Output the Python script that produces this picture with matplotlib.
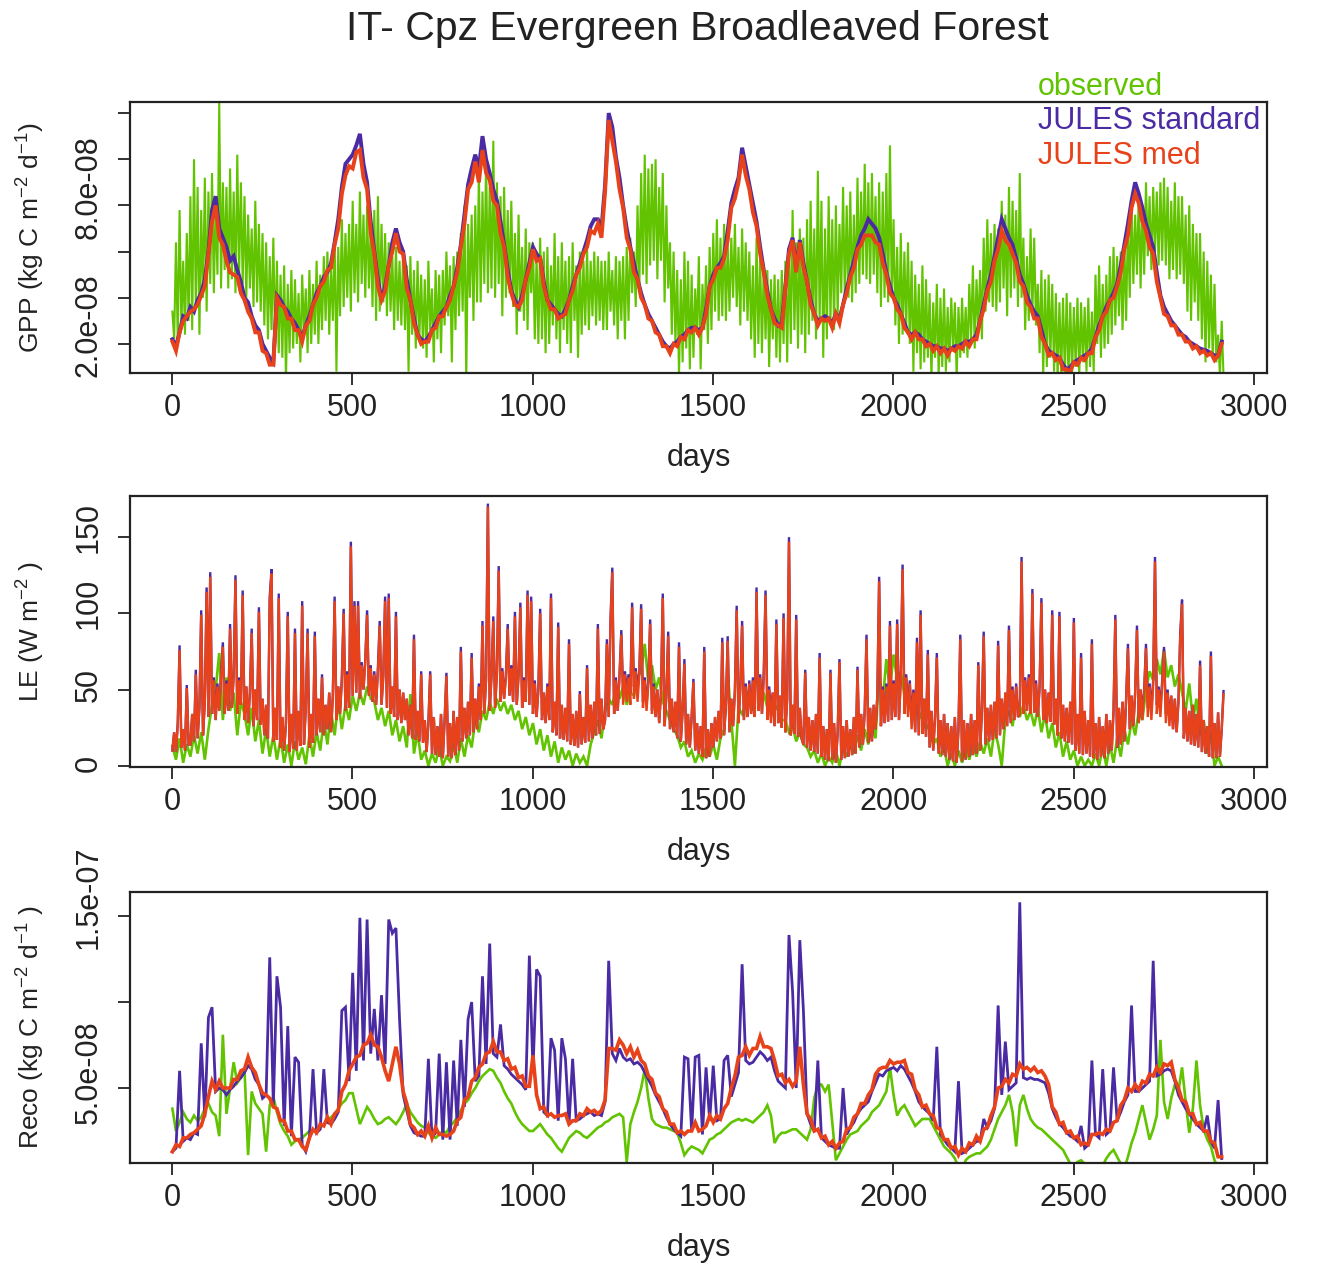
import numpy as np
import matplotlib
matplotlib.use("Agg")
import matplotlib.pyplot as plt
import matplotlib.transforms as mtransforms

plt.rcParams['font.family'] = ['Liberation Sans', 'DejaVu Sans']
plt.rcParams['mathtext.fontset'] = 'custom'
plt.rcParams['mathtext.rm'] = 'Liberation Sans'
plt.rcParams['mathtext.default'] = 'regular'

# ---------------- data ----------------
# series are sampled from day 1, every 5 days (fine) or every 10 days (coarse)
DAY0 = 1
STEP_FINE, STEP_COARSE = 5, 10

# GPP observed, 1e-8 kg C m-2 d-1, every 5 days
gpp_obs_e8 = [
    3.4, 2.2, 6.4, 2.0, 7.8, 2.8, 5.6, 2.4, 6.8, 3.0,
    8.4, 2.6, 10.0, 3.6, 8.8, 2.4, 7.8, 4.0, 9.2, 3.4,
    8.6, 4.6, 9.4, 4.2, 8.2, 5.0, 12.5, 4.4, 9.0, 5.2,
    8.8, 4.4, 9.6, 4.8, 8.6, 4.2, 10.2, 5.0, 9.0, 4.6,
    8.4, 4.0, 7.6, 4.4, 7.0, 3.6, 8.2, 3.8, 7.2, 3.4,
    6.8, 2.8, 6.4, 2.2, 5.8, 2.6, 6.6, 2.0, 5.6, 1.6,
    5.0, 1.4, 5.4, 0.4, 4.6, 1.6, 5.2, 1.8, 4.8, 2.0,
    4.2, 1.2, 5.0, 2.4, 4.4, 1.6, 5.2, 2.0, 4.6, 2.4,
    5.6, 2.0, 5.0, 2.6, 5.8, 3.0, 6.0, 2.4, 5.4, 3.0,
    6.6, 0.8, 6.2, 3.2, 7.4, 3.6, 6.8, 4.0, 7.2, 3.4,
    8.2, 4.2, 7.2, 3.8, 8.6, 4.6, 7.6, 4.0, 8.0, 4.4,
    7.0, 3.6, 7.8, 3.0, 8.4, 3.4, 7.2, 3.8, 6.8, 3.2,
    6.4, 3.4, 5.8, 2.6, 6.2, 3.0, 5.6, 2.8, 6.0, 2.6,
    5.4, 0.8, 5.8, 2.4, 5.2, 1.8, 5.6, 2.2, 5.0, 1.8,
    4.8, 1.4, 5.6, 2.6, 4.4, 1.2, 5.2, 2.2, 5.0, 1.6,
    5.2, 2.8, 6.0, 3.2, 5.4, 1.2, 5.8, 2.6, 6.0, 3.2,
    6.8, 3.4, 8.0, 0.3, 7.2, 4.0, 7.6, 3.0, 8.0, 3.8,
    9.4, 3.8, 8.6, 4.6, 10.0, 4.2, 8.8, 4.4, 10.8, 4.0,
    9.0, 4.6, 8.4, 3.2, 8.8, 4.0, 7.8, 4.2, 8.2, 3.6,
    6.8, 2.4, 7.6, 3.4, 6.2, 3.0, 7.0, 2.6, 6.4, 4.2,
    6.4, 2.2, 5.8, 2.0, 6.6, 2.2, 6.0, 1.6, 6.2, 2.0,
    5.4, 2.8, 6.8, 2.2, 5.8, 1.6, 6.4, 2.6, 5.6, 2.0,
    5.8, 1.6, 6.4, 3.0, 5.4, 1.4, 6.0, 2.4, 5.6, 2.8,
    6.2, 2.6, 5.6, 3.2, 6.0, 2.8, 5.8, 3.0, 5.6, 2.6,
    5.6, 2.6, 6.0, 3.4, 5.2, 2.8, 5.8, 2.2, 5.6, 3.0,
    5.8, 2.2, 6.2, 3.0, 6.6, 4.2, 6.0, 3.6, 8.0, 4.4,
    9.4, 5.0, 10.2, 4.6, 9.6, 5.4, 9.8, 5.6, 10.0, 4.8,
    8.8, 5.6, 9.4, 3.8, 8.0, 4.4, 6.4, 2.4, 6.0, 2.0,
    5.2, 0.6, 4.8, 1.2, 6.0, 1.8, 5.6, 0.9, 5.0, 1.4,
    4.4, 2.4, 5.8, 0.9, 4.6, 2.6, 5.4, 2.0, 6.2, 2.6,
    6.8, 3.4, 7.4, 3.0, 6.6, 3.2, 7.2, 3.0, 6.4, 3.4,
    6.6, 4.0, 7.2, 3.6, 6.2, 2.8, 7.0, 3.4, 6.4, 3.0,
    6.0, 2.2, 5.4, 1.4, 6.6, 2.0, 5.8, 1.6, 5.4, 2.2,
    5.2, 1.0, 4.8, 2.2, 5.0, 1.4, 4.8, 1.2, 5.2, 2.0,
    5.6, 1.2, 6.2, 2.0, 7.8, 2.6, 6.4, 1.8, 7.0, 2.4,
    6.6, 1.6, 7.4, 2.4, 8.2, 3.0, 7.0, 2.2, 9.5, 3.0,
    8.2, 1.4, 7.0, 2.2, 8.4, 3.0, 7.4, 2.6, 8.0, 3.2,
    7.2, 4.2, 8.8, 3.8, 8.0, 4.0, 8.6, 3.8, 7.6, 4.2,
    9.2, 4.6, 8.6, 5.0, 9.8, 4.8, 9.0, 4.6, 9.4, 5.0,
    8.4, 4.2, 9.0, 3.6, 8.6, 4.0, 9.4, 3.8, 10.6, 4.0,
    7.4, 2.8, 6.2, 2.0, 6.8, 2.4, 6.0, 2.6, 6.4, 2.0,
    5.6, 0.8, 5.0, 1.6, 4.6, 0.9, 5.4, 1.2, 4.8, 1.4,
    4.2, 0.5, 3.8, 1.4, 4.6, 0.6, 4.0, 1.0, 4.4, 0.8,
    3.6, 1.2, 4.0, 1.8, 3.8, 0.5, 3.6, 1.4, 4.0, 1.6,
    3.6, 1.4, 4.6, 2.2, 5.4, 1.8, 4.8, 2.6, 5.2, 2.2,
    6.6, 3.4, 7.4, 3.8, 6.8, 3.6, 7.2, 3.4, 7.0, 3.8,
    8.2, 4.4, 7.6, 3.2, 8.8, 4.0, 8.2, 4.4, 7.8, 3.6,
    9.4, 4.0, 6.6, 2.6, 5.8, 3.0, 7.0, 3.4, 6.6, 2.8,
    4.6, 1.6, 5.2, 0.6, 4.8, 1.0, 5.0, 1.4, 4.6, 0.8,
    4.2, 0.5, 3.8, 0.7, 4.0, 0.6, 4.2, 0.5, 3.8, 0.6,
    3.6, 1.0, 4.0, 0.6, 3.8, 1.2, 3.6, 0.8, 4.0, 1.0,
    3.4, 0.8, 5.0, 2.0, 5.4, 1.4, 4.6, 1.8, 5.0, 2.0,
    5.8, 2.4, 6.2, 2.8, 5.8, 3.2, 6.0, 2.6, 6.4, 3.0,
    7.4, 4.0, 8.2, 4.6, 7.6, 5.0, 8.6, 4.4, 8.0, 5.0,
    9.0, 5.8, 8.4, 5.2, 8.8, 6.0, 8.6, 5.4, 9.0, 5.6,
    9.2, 5.4, 8.8, 4.8, 8.2, 5.2, 9.0, 4.8, 8.4, 5.0,
    8.4, 4.6, 7.6, 3.4, 8.0, 3.0, 7.2, 3.8, 6.8, 3.0,
    6.8, 2.2, 6.0, 1.2, 5.6, 1.8, 5.0, 1.4, 4.6, 1.2,
    2.4, 0.6, 3.0, 0.6]

# GPP JULES standard / med, 1e-8 kg C m-2 d-1, every 10 days
gpp_std_e8 = [
    2.2, 1.9, 2.5, 3.2, 3.1, 3.6, 3.4, 3.9, 4.2, 4.8,
    6.0, 7.8, 8.4, 7.0, 6.6, 6.2, 5.6, 5.8, 5.2, 4.7,
    4.0, 3.8, 3.2, 2.8, 2.6, 2.0, 1.7, 1.4, 1.2, 4.1,
    3.9, 3.6, 3.4, 3.1, 2.9, 2.6, 2.3, 2.8, 3.2, 3.7,
    4.2, 4.5, 4.9, 5.1, 5.5, 6.4, 7.4, 8.8, 9.8, 10.0,
    10.2, 10.6, 11.1, 9.8, 9.0, 7.3, 6.0, 4.8, 3.9, 4.5,
    5.4, 6.4, 7.0, 6.4, 6.0, 4.8, 3.9, 3.1, 2.4, 2.2,
    2.1, 2.3, 2.6, 2.9, 3.2, 3.4, 3.6, 4.1, 4.5, 5.3,
    6.3, 7.6, 8.9, 9.6, 10.2, 9.6, 11.0, 10.0, 9.4, 8.7,
    8.2, 7.3, 6.3, 5.2, 4.3, 3.9, 3.6, 4.1, 4.8, 5.5,
    6.2, 5.9, 5.7, 4.7, 3.9, 3.7, 3.5, 3.3, 3.2, 3.5,
    3.9, 4.5, 5.0, 5.5, 6.0, 6.5, 7.1, 7.4, 7.4, 7.0,
    8.9, 12.0, 11.4, 10.1, 9.2, 8.0, 7.0, 6.2, 5.5, 4.8,
    4.2, 3.7, 3.3, 3.0, 2.7, 2.4, 2.1, 1.9, 1.8, 2.0,
    2.1, 2.3, 2.4, 2.6, 2.7, 2.7, 2.6, 2.7, 3.5, 4.5,
    5.0, 5.3, 5.5, 5.8, 6.9, 8.1, 8.7, 9.2, 10.5, 9.7,
    8.9, 8.1, 7.3, 6.2, 5.2, 4.3, 3.5, 3.1, 2.8, 2.9,
    4.5, 6.1, 6.6, 5.3, 6.5, 5.5, 4.7, 3.9, 3.3, 3.0,
    3.1, 3.2, 3.1, 2.9, 3.3, 3.1, 3.7, 4.4, 5.0, 5.6,
    6.2, 6.7, 7.0, 7.4, 7.2, 7.0, 6.6, 5.9, 5.1, 4.5,
    4.0, 3.7, 3.3, 2.9, 2.5, 2.4, 2.5, 2.4, 2.2, 2.1,
    2.0, 1.9, 1.9, 1.8, 1.8, 1.7, 1.8, 1.9, 1.9, 2.0,
    2.1, 2.1, 2.2, 2.4, 3.0, 3.7, 4.4, 5.0, 5.8, 6.6,
    7.4, 7.0, 6.6, 6.3, 5.7, 5.0, 4.6, 4.1, 3.7, 3.4,
    3.2, 2.6, 2.0, 1.7, 1.6, 1.5, 1.4, 1.1, 0.9, 1.0,
    1.2, 1.3, 1.4, 1.5, 1.6, 1.8, 2.3, 2.8, 3.2, 3.6,
    3.9, 4.2, 4.6, 5.4, 6.3, 7.2, 8.2, 9.0, 8.5, 7.9,
    7.2, 6.7, 6.2, 5.1, 4.1, 3.6, 3.3, 3.0, 2.8, 2.6,
    2.4, 2.3, 2.1, 2.0, 1.9, 1.8, 1.75, 1.7, 1.6, 1.5,
    1.5, 2.1]

gpp_med_e8 = [
    2.1, 1.7, 2.5, 3.0, 3.2, 3.4, 3.5, 3.7, 4.1, 4.5,
    5.9, 7.3, 8.0, 6.6, 6.3, 5.6, 5.1, 5.0, 4.9, 4.2,
    3.9, 3.4, 3.1, 2.5, 2.5, 1.7, 1.6, 1.1, 1.1, 4.0,
    3.7, 3.6, 3.1, 3.1, 2.6, 2.6, 2.1, 2.8, 3.0, 3.7,
    4.0, 4.5, 4.7, 5.2, 5.3, 6.3, 7.0, 8.5, 9.3, 9.7,
    9.6, 10.3, 10.4, 9.2, 8.7, 6.8, 5.9, 4.5, 3.9, 4.3,
    5.4, 6.0, 6.8, 6.0, 5.9, 4.4, 3.9, 2.9, 2.4, 2.0,
    2.1, 2.1, 2.6, 2.7, 3.2, 3.2, 3.6, 3.9, 4.5, 5.1,
    6.2, 7.2, 8.7, 9.0, 9.9, 9.0, 10.4, 9.4, 9.1, 8.2,
    8.0, 6.8, 6.2, 4.9, 4.2, 3.7, 3.6, 3.9, 4.8, 5.3,
    6.1, 5.6, 5.7, 4.5, 3.9, 3.5, 3.5, 3.1, 3.2, 3.3,
    3.9, 4.3, 5.0, 5.3, 5.9, 6.2, 6.9, 6.8, 7.2, 6.6,
    8.6, 11.7, 10.8, 9.9, 8.7, 7.9, 6.6, 6.1, 5.1, 4.8,
    4.0, 3.7, 3.1, 3.0, 2.5, 2.4, 1.9, 1.9, 1.6, 2.0,
    1.9, 2.3, 2.2, 2.6, 2.5, 2.7, 2.4, 2.7, 3.3, 4.5,
    4.8, 5.3, 5.3, 5.7, 6.5, 7.9, 8.3, 9.0, 10.2, 9.3,
    8.7, 7.7, 7.1, 5.9, 5.1, 4.1, 3.5, 2.9, 2.8, 2.7,
    4.4, 5.9, 6.5, 5.1, 6.4, 5.3, 4.7, 3.7, 3.3, 2.8,
    3.1, 3.0, 3.1, 2.7, 3.3, 2.9, 3.7, 4.2, 4.9, 5.3,
    6.1, 6.3, 6.7, 6.7, 6.7, 6.4, 6.3, 5.5, 5.0, 4.2,
    4.0, 3.5, 3.3, 2.7, 2.5, 2.2, 2.5, 2.2, 2.2, 1.9,
    2.0, 1.7, 1.9, 1.6, 1.8, 1.5, 1.8, 1.7, 1.9, 1.8,
    2.1, 1.9, 2.2, 2.2, 3.0, 3.5, 4.3, 4.7, 5.6, 6.1,
    6.9, 6.5, 6.3, 5.9, 5.5, 4.7, 4.5, 3.8, 3.6, 3.1,
    3.1, 2.3, 2.0, 1.5, 1.6, 1.3, 1.4, 0.9, 0.9, 0.8,
    1.2, 1.1, 1.4, 1.3, 1.6, 1.6, 2.3, 2.6, 3.2, 3.4,
    3.9, 4.0, 4.5, 5.1, 6.1, 6.7, 7.9, 8.5, 8.1, 7.3,
    6.9, 6.2, 5.9, 4.7, 4.0, 3.3, 3.2, 2.8, 2.8, 2.4,
    2.4, 2.1, 2.1, 1.8, 1.9, 1.6, 1.7, 1.5, 1.6, 1.3,
    1.5, 2.0]

# LE observed, W m-2, every 10 days
le_obs = [
    13, 4, 18, 2, 14, 6, 20, 8, 22, 4,
    24, 40, 50, 74, 30, 58, 36, 48, 20, 42,
    34, 20, 38, 16, 30, 8, 24, 6, 20, 4,
    18, 2, 14, 0, 16, 4, 12, 1, 20, 6,
    22, 10, 30, 14, 36, 20, 42, 24, 40, 30,
    46, 36, 48, 40, 52, 44, 42, 30, 38, 26,
    36, 20, 30, 16, 26, 12, 47, 8, 22, 4,
    10, 0, 8, 2, 12, 0, 6, 3, 14, 2,
    18, 6, 20, 12, 30, 22, 36, 30, 42, 34,
    44, 36, 42, 34, 40, 30, 36, 24, 32, 20,
    28, 14, 24, 10, 20, 6, 16, 2, 12, 4,
    10, 0, 8, 2, 6, 0, 14, 22, 30, 18,
    36, 44, 40, 50, 44, 52, 40, 48, 46, 58,
    62, 80, 54, 66, 50, 58, 42, 36, 30, 24,
    20, 12, 16, 6, 10, 2, 8, 4, 12, 6,
    14, 4, 18, 24, 62, 30, 0, 38, 34, 40,
    44, 36, 64, 42, 48, 38, 46, 36, 40, 30,
    30, 22, 26, 16, 22, 14, 12, 6, 10, 2,
    8, 0, 6, 2, 10, 0, 12, 6, 14, 8,
    20, 10, 24, 14, 28, 18, 60, 42, 70, 50,
    73, 56, 62, 46, 50, 40, 44, 30, 36, 24,
    28, 14, 18, 6, 12, 0, 8, 0, 10, 2,
    12, 4, 14, 6, 16, 8, 18, 6, 24, 14,
    0, 30, 36, 26, 44, 32, 40, 30, 36, 26,
    38, 22, 34, 18, 28, 12, 22, 6, 16, 4,
    10, 0, 6, 0, 4, 0, 8, 0, 12, 0,
    14, 2, 18, 6, 24, 14, 30, 20, 36, 30,
    50, 62, 56, 70, 60, 76, 58, 66, 52, 60,
    48, 36, 54, 30, 44, 20, 30, 8, 22, 0,
    6, 0]

# LE JULES standard, W m-2, every 5 days
le_std = [
    10, 22, 9, 28, 79, 12, 24, 10, 53, 14,
    14, 34, 16, 63, 18, 38, 102, 20, 42, 117,
    32, 127, 34, 58, 30, 54, 36, 60, 81, 34,
    56, 36, 93, 38, 60, 125, 34, 58, 40, 115,
    30, 52, 28, 48, 90, 26, 50, 30, 104, 27,
    44, 20, 40, 18, 111, 129, 16, 38, 17, 113,
    12, 32, 10, 28, 101, 9, 34, 11, 90, 10,
    36, 13, 108, 14, 38, 90, 12, 34, 15, 88,
    20, 44, 22, 60, 20, 40, 24, 48, 22, 46,
    111, 30, 52, 34, 58, 103, 36, 62, 38, 147,
    46, 108, 48, 108, 44, 68, 50, 70, 102, 46,
    66, 42, 62, 40, 64, 95, 40, 60, 111, 38,
    113, 34, 52, 32, 101, 30, 50, 28, 48, 30,
    44, 20, 40, 18, 86, 17, 36, 16, 62, 15,
    30, 9, 28, 62, 8, 32, 7, 26, 6, 34,
    5, 30, 61, 6, 28, 5, 36, 7, 32, 10,
    78, 16, 38, 18, 42, 20, 74, 22, 44, 24,
    54, 30, 95, 34, 58, 172, 36, 60, 98, 38,
    62, 131, 42, 64, 44, 60, 93, 46, 66, 42,
    101, 40, 60, 107, 38, 58, 42, 115, 40, 111,
    34, 56, 32, 50, 103, 30, 48, 28, 54, 30,
    113, 22, 42, 20, 94, 18, 40, 17, 38, 16,
    83, 14, 34, 13, 36, 12, 49, 14, 32, 15,
    66, 16, 40, 18, 42, 20, 93, 21, 44, 24,
    30, 83, 32, 96, 130, 34, 58, 36, 60, 89,
    48, 62, 50, 60, 48, 107, 52, 64, 50, 62,
    106, 42, 58, 40, 56, 96, 36, 54, 32, 50,
    28, 48, 113, 26, 46, 88, 24, 44, 22, 42,
    18, 81, 16, 36, 70, 14, 34, 12, 32, 57,
    10, 28, 8, 26, 6, 78, 5, 24, 6, 28,
    12, 32, 16, 36, 18, 84, 20, 40, 85, 22,
    44, 26, 50, 105, 28, 52, 95, 30, 54, 32,
    56, 34, 58, 32, 117, 36, 60, 34, 62, 115,
    36, 52, 32, 48, 26, 96, 28, 46, 25, 100,
    22, 44, 150, 20, 40, 21, 99, 19, 38, 18,
    14, 63, 12, 32, 10, 30, 9, 34, 8, 74,
    6, 26, 4, 24, 3, 63, 4, 28, 2, 22,
    70, 4, 26, 5, 30, 6, 24, 7, 32, 8,
    65, 12, 34, 14, 36, 86, 15, 38, 16, 40,
    24, 46, 124, 26, 52, 28, 54, 29, 95, 30,
    56, 32, 96, 30, 58, 132, 40, 60, 38, 56,
    30, 50, 22, 84, 20, 102, 21, 44, 19, 76,
    12, 36, 10, 32, 74, 8, 30, 7, 34, 6,
    28, 4, 26, 3, 32, 2, 24, 86, 3, 30,
    4, 28, 6, 34, 7, 30, 8, 68, 10, 36,
    88, 14, 38, 16, 40, 17, 42, 18, 82, 20,
    44, 24, 48, 26, 92, 28, 52, 30, 54, 32,
    34, 137, 34, 58, 36, 60, 34, 116, 35, 56,
    32, 52, 110, 30, 50, 28, 48, 29, 102, 27,
    44, 20, 101, 18, 40, 16, 38, 15, 42, 14,
    97, 10, 34, 8, 74, 7, 36, 8, 30, 6,
    83, 5, 28, 4, 32, 6, 26, 5, 34, 8,
    30, 10, 36, 99, 12, 38, 14, 42, 16, 44,
    80, 24, 46, 26, 48, 92, 28, 50, 36, 50,
    80, 38, 54, 36, 56, 137, 40, 52, 38, 56,
    78, 34, 50, 30, 46, 24, 44, 22, 42, 87,
    109, 18, 38, 16, 36, 14, 40, 13, 34, 12,
    69, 9, 30, 8, 26, 6, 75, 5, 28, 5,
    35, 6, 24, 49]

# LE JULES med, W m-2, every 5 days
le_med = [
    10, 22, 9, 28, 76, 12, 24, 10, 51, 14,
    14, 34, 16, 60, 18, 38, 99, 20, 42, 114,
    32, 124, 34, 56, 30, 52, 36, 58, 78, 34,
    54, 36, 90, 38, 58, 122, 34, 56, 40, 112,
    30, 52, 28, 48, 87, 26, 50, 30, 101, 27,
    44, 20, 40, 18, 108, 126, 16, 38, 17, 110,
    12, 32, 10, 28, 98, 9, 34, 11, 87, 10,
    36, 13, 105, 14, 38, 87, 12, 34, 15, 85,
    20, 44, 22, 58, 20, 40, 24, 48, 22, 46,
    108, 30, 52, 34, 56, 100, 36, 60, 38, 144,
    46, 105, 48, 105, 44, 66, 50, 68, 99, 46,
    64, 42, 60, 40, 62, 92, 40, 58, 108, 38,
    110, 34, 52, 32, 98, 30, 50, 28, 48, 30,
    44, 20, 40, 18, 83, 17, 36, 16, 60, 15,
    30, 9, 28, 60, 8, 32, 7, 26, 6, 34,
    5, 30, 59, 6, 28, 5, 36, 7, 32, 10,
    75, 16, 38, 18, 42, 20, 71, 22, 44, 24,
    52, 30, 92, 34, 56, 170, 36, 58, 95, 38,
    60, 128, 42, 62, 44, 58, 90, 46, 64, 42,
    98, 40, 58, 104, 38, 56, 42, 112, 40, 108,
    34, 54, 32, 50, 100, 30, 48, 28, 52, 30,
    110, 22, 42, 20, 91, 18, 40, 17, 38, 16,
    80, 14, 34, 13, 36, 12, 47, 14, 32, 15,
    64, 16, 40, 18, 42, 20, 90, 21, 44, 24,
    30, 80, 32, 93, 127, 34, 56, 36, 58, 86,
    40, 60, 42, 58, 40, 104, 44, 62, 42, 60,
    103, 38, 56, 36, 54, 93, 34, 52, 32, 50,
    28, 48, 110, 26, 46, 85, 24, 44, 22, 42,
    18, 78, 16, 36, 67, 14, 34, 12, 32, 55,
    10, 28, 8, 26, 6, 75, 5, 24, 6, 28,
    12, 32, 16, 36, 18, 81, 20, 40, 82, 22,
    44, 26, 48, 102, 28, 50, 92, 30, 52, 32,
    54, 34, 56, 32, 114, 36, 58, 34, 56, 112,
    30, 50, 28, 48, 26, 93, 28, 46, 25, 97,
    22, 44, 147, 20, 40, 21, 96, 19, 38, 18,
    14, 61, 12, 32, 10, 30, 9, 34, 8, 71,
    6, 26, 4, 24, 3, 61, 4, 28, 2, 22,
    68, 4, 26, 5, 30, 6, 24, 7, 32, 8,
    63, 12, 34, 14, 36, 83, 15, 38, 16, 40,
    24, 46, 121, 26, 50, 28, 52, 29, 92, 30,
    54, 32, 93, 30, 56, 129, 34, 58, 32, 54,
    24, 48, 22, 81, 20, 99, 21, 44, 19, 73,
    12, 36, 10, 32, 71, 8, 30, 7, 34, 6,
    28, 4, 26, 3, 32, 2, 24, 83, 3, 30,
    4, 28, 6, 34, 7, 30, 8, 66, 10, 36,
    85, 14, 38, 16, 40, 17, 42, 18, 79, 20,
    44, 24, 48, 26, 89, 28, 50, 30, 52, 32,
    34, 134, 34, 56, 36, 58, 34, 113, 35, 54,
    32, 52, 107, 30, 50, 28, 48, 29, 99, 27,
    44, 20, 98, 18, 40, 16, 38, 15, 42, 14,
    94, 10, 34, 8, 71, 7, 36, 8, 30, 6,
    80, 5, 28, 4, 32, 6, 26, 5, 34, 8,
    30, 10, 36, 96, 12, 38, 14, 42, 16, 44,
    77, 24, 46, 26, 48, 89, 28, 50, 30, 48,
    77, 32, 52, 30, 54, 134, 34, 50, 32, 54,
    75, 28, 48, 26, 46, 24, 44, 22, 42, 84,
    106, 18, 38, 16, 36, 14, 40, 13, 34, 12,
    66, 9, 30, 8, 26, 6, 72, 5, 28, 5,
    35, 6, 24, 47]

# Reco, 1e-8 kg C m-2 d-1, every 10 days
reco_obs_e8 = [
    3.8, 2.5, 3.0, 3.6, 3.2, 3.0, 3.4, 3.1, 3.3, 3.8,
    4.1, 3.6, 3.4, 2.2, 8.1, 3.5, 5.0, 6.5, 5.3, 5.6,
    6.1, 1.1, 4.8, 4.1, 3.8, 3.5, 1.3, 4.0, 4.5, 3.6,
    2.9, 2.5, 2.2, 1.7, 1.9, 2.0, 2.1, 2.3, 2.5, 2.5,
    2.6, 2.7, 2.9, 3.1, 3.3, 3.5, 3.8, 4.1, 4.3, 4.7,
    4.7, 3.8, 2.9, 3.4, 3.9, 3.6, 3.2, 2.9, 3.0, 3.2,
    3.3, 3.1, 2.9, 3.2, 3.6, 4.1, 3.6, 3.3, 3.0, 2.8,
    2.7, 2.4, 2.2, 2.1, 2.3, 2.5, 2.4, 2.8, 3.0, 3.3,
    3.7, 4.1, 4.3, 4.7, 5.0, 5.4, 5.7, 5.9, 6.1, 6.0,
    5.6, 5.3, 4.8, 4.4, 4.1, 3.6, 3.2, 2.9, 2.7, 2.5,
    2.5, 2.7, 2.9, 2.6, 2.3, 2.1, 1.8, 1.5, 1.3, 1.7,
    2.1, 2.3, 2.5, 2.4, 2.2, 2.1, 2.3, 2.5, 2.7, 2.8,
    3.0, 3.1, 3.3, 3.4, 3.5, 3.3, 0.7, 2.9, 3.6, 4.2,
    5.0, 6.1, 4.4, 3.2, 2.9, 2.8, 2.7, 2.7, 2.6, 2.5,
    2.4, 1.8, 1.1, 1.4, 1.6, 1.5, 1.4, 1.2, 1.6, 2.0,
    2.1, 2.3, 2.4, 2.6, 2.8, 3.0, 3.1, 3.2, 3.1, 3.2,
    3.1, 3.0, 3.2, 3.4, 3.6, 4.0, 3.4, 1.8, 2.2, 2.4,
    2.4, 2.5, 2.6, 2.6, 2.4, 2.2, 2.0, 2.6, 4.4, 5.2,
    5.2, 4.8, 5.2, 3.0, 0.8, 1.2, 1.6, 2.0, 2.3, 2.4,
    2.5, 2.8, 3.0, 3.2, 3.6, 3.8, 4.0, 4.4, 4.8, 6.2,
    4.6, 3.4, 3.8, 4.0, 3.6, 3.2, 2.8, 3.0, 3.2, 3.2,
    3.2, 2.8, 2.4, 2.0, 1.6, 1.4, 1.2, 0.9, 0.4, 0.2,
    0.8, 1.0, 1.1, 1.2, 1.2, 1.4, 1.6, 2.0, 2.6, 3.2,
    3.6, 4.0, 4.6, 3.6, 1.6, 4.0, 4.6, 3.8, 3.2, 2.9,
    2.7, 2.6, 2.4, 2.2, 2.0, 1.8, 1.6, 1.4, 1.0, 0.6,
    0.5, 0.7, 0.8, 0.6, 0.4, 0.2, 0.4, 0.6, 0.5, 0.9,
    1.2, 1.4, 1.0, 0.6, 0.3, 1.0, 1.8, 2.4, 3.2, 4.0,
    3.0, 2.0, 2.6, 3.4, 7.8, 4.2, 3.2, 4.4, 5.2, 4.8,
    6.2, 4.2, 2.4, 3.8, 6.6, 4.0, 2.6, 2.0, 1.6, 0.8,
    0.4, 0.0]

reco_std_e8 = [
    1.3, 1.5, 6.0, 1.9, 2.1, 2.0, 2.4, 2.3, 7.6, 3.3,
    9.1, 9.7, 4.8, 5.0, 4.9, 4.6, 4.9, 5.1, 5.4, 5.6,
    5.9, 6.3, 6.1, 5.5, 5.2, 4.4, 4.6, 12.6, 4.0, 11.5,
    9.7, 2.8, 8.6, 2.2, 6.8, 6.5, 1.7, 1.3, 2.1, 6.1,
    2.4, 2.6, 6.1, 3.0, 2.9, 3.2, 3.6, 9.5, 9.7, 5.4,
    11.7, 6.0, 14.9, 6.6, 14.8, 7.0, 9.6, 6.6, 10.4, 6.4,
    14.8, 14.0, 14.3, 9.0, 4.6, 3.7, 2.8, 2.4, 2.3, 2.2,
    2.2, 6.7, 2.1, 2.4, 7.0, 2.0, 6.5, 2.0, 6.6, 2.8,
    7.8, 3.9, 9.0, 10.0, 5.4, 5.7, 11.5, 6.4, 13.4, 7.0,
    6.8, 8.7, 6.3, 6.1, 5.8, 5.6, 5.4, 5.2, 4.9, 12.7,
    6.0, 11.9, 11.5, 3.6, 3.4, 7.9, 7.2, 3.1, 7.9, 6.7,
    2.9, 6.7, 3.1, 3.2, 3.4, 3.5, 3.6, 3.4, 3.5, 3.4,
    4.2, 12.4, 7.0, 6.6, 7.3, 6.8, 6.6, 6.7, 6.4, 6.5,
    6.3, 5.9, 5.5, 5.1, 4.6, 4.2, 3.8, 3.3, 2.9, 2.6,
    2.4, 2.2, 6.8, 6.7, 2.5, 6.8, 6.9, 2.3, 6.2, 3.1,
    6.3, 3.1, 3.2, 6.6, 6.9, 4.5, 5.2, 5.9, 12.2, 6.6,
    6.4, 6.5, 6.8, 7.1, 6.9, 6.6, 6.8, 6.0, 5.4, 5.2,
    5.0, 13.9, 10.6, 5.0, 13.6, 9.5, 3.5, 2.9, 2.5, 6.6,
    2.1, 1.9, 1.7, 1.6, 1.5, 1.5, 5.0, 2.3, 2.7, 3.0,
    3.5, 3.8, 4.0, 4.2, 4.8, 5.3, 5.8, 5.7, 6.0, 6.1,
    6.2, 6.0, 6.3, 6.1, 5.7, 5.3, 4.8, 4.2, 3.9, 3.7,
    3.5, 3.1, 7.4, 2.3, 2.0, 1.7, 1.5, 1.3, 5.4, 1.2,
    1.3, 1.5, 1.7, 1.9, 1.9, 3.2, 2.7, 3.1, 3.8, 9.8,
    4.6, 7.7, 4.9, 5.1, 5.3, 15.8, 5.6, 5.5, 5.6, 5.5,
    5.5, 5.4, 5.3, 4.7, 3.8, 3.3, 2.9, 2.7, 2.4, 2.2,
    2.1, 1.9, 2.8, 1.5, 1.7, 6.6, 2.3, 2.1, 6.1, 2.3,
    2.5, 6.2, 3.1, 3.6, 4.2, 4.6, 9.8, 4.8, 4.8, 5.0,
    5.2, 5.4, 12.4, 5.7, 5.8, 6.0, 6.1, 6.0, 5.4, 4.6,
    4.2, 3.8, 3.5, 3.2, 2.9, 2.7, 2.5, 3.4, 1.9, 1.5,
    4.3, 0.9]

reco_med_e8 = [
    1.3, 1.7, 1.6, 2.1, 2.1, 2.3, 2.4, 2.6, 2.8, 3.5,
    4.5, 5.4, 4.9, 5.4, 5.0, 5.0, 5.0, 5.5, 5.5, 6.0,
    6.1, 6.8, 6.2, 5.9, 5.2, 4.7, 4.6, 4.4, 3.9, 3.8,
    3.1, 3.1, 2.5, 2.5, 2.0, 2.0, 1.6, 1.4, 2.1, 2.6,
    2.4, 2.9, 2.8, 3.3, 2.9, 3.5, 3.7, 4.8, 5.2, 6.0,
    6.4, 6.8, 6.9, 7.5, 7.6, 8.1, 7.5, 7.4, 6.8, 6.0,
    5.4, 6.4, 7.4, 6.4, 4.8, 4.1, 2.9, 2.7, 2.3, 2.5,
    2.2, 2.8, 2.1, 2.7, 2.3, 2.3, 2.2, 2.3, 2.5, 3.1,
    3.3, 4.3, 4.5, 5.4, 5.6, 6.2, 6.4, 7.0, 7.1, 7.7,
    7.1, 7.1, 6.6, 6.7, 6.1, 6.2, 5.6, 5.7, 5.1, 5.1,
    6.9, 4.6, 3.8, 3.9, 3.4, 3.5, 3.3, 3.4, 3.4, 3.5,
    2.9, 3.1, 3.1, 3.5, 3.4, 3.8, 3.6, 3.7, 3.5, 3.7,
    4.3, 7.3, 7.3, 7.2, 7.8, 7.5, 7.0, 7.4, 6.8, 7.2,
    6.6, 6.4, 5.7, 5.5, 4.7, 4.5, 3.8, 3.6, 2.9, 2.9,
    2.4, 2.5, 2.3, 2.5, 2.5, 3.0, 2.5, 2.6, 2.8, 3.4,
    3.0, 3.4, 3.2, 3.8, 4.1, 5.0, 5.7, 6.8, 6.9, 7.4,
    6.9, 7.3, 7.3, 8.0, 7.4, 7.4, 7.3, 6.6, 5.7, 5.8,
    5.3, 5.5, 5.1, 5.4, 7.4, 5.2, 3.5, 3.2, 2.5, 2.6,
    2.1, 2.2, 1.7, 1.9, 1.5, 1.8, 1.9, 2.6, 2.7, 3.3,
    3.5, 4.1, 4.1, 4.6, 4.9, 5.8, 6.1, 6.2, 6.2, 6.6,
    6.4, 6.5, 6.5, 6.6, 5.9, 5.8, 4.9, 4.6, 3.9, 4.0,
    3.5, 3.4, 2.7, 2.6, 2.0, 2.0, 1.5, 1.6, 1.1, 1.5,
    1.3, 1.8, 1.7, 2.2, 1.9, 2.6, 2.7, 3.4, 3.9, 5.0,
    5.1, 5.5, 5.3, 5.8, 5.7, 6.4, 6.1, 6.2, 6.0, 6.2,
    5.9, 6.0, 5.7, 5.2, 3.9, 3.6, 2.9, 3.0, 2.4, 2.5,
    2.1, 2.2, 1.7, 1.8, 1.7, 2.3, 2.3, 2.4, 2.3, 2.6,
    2.5, 3.0, 3.1, 4.0, 4.3, 5.0, 4.8, 5.2, 4.9, 5.4,
    5.3, 5.8, 5.7, 6.2, 5.9, 6.4, 6.3, 6.5, 5.5, 5.0,
    4.3, 4.2, 3.5, 3.5, 2.9, 3.0, 2.5, 2.5, 1.9, 1.8,
    1.0, 1.0]

# ---------------- styling ----------------
col_obs = '#62C300'
col_std = '#4A2BA3'
col_med = '#E8421A'
FS = 22
FS_YLAB = 19

panels = [
    dict(series=((gpp_obs_e8, STEP_FINE), (gpp_std_e8, STEP_COARSE), (gpp_med_e8, STEP_COARSE)),
         scale=1e-8, lws=(1.5, 2.8, 2.8),
         ylim=(0.74e-8, 12.48e-8), yticks=[2e-8, 4e-8, 6e-8, 8e-8, 10e-8, 12e-8],
         ylabels={2e-8: ('2.0e-08', 19), 8e-8: ('8.0e-08', 18)},
         ylabel=r'GPP (kg C m$^{-2}$ d$^{-1}$)', top=102),
    dict(series=((le_obs, STEP_COARSE), (le_std, STEP_FINE), (le_med, STEP_FINE)),
         scale=1.0, lws=(1.9, 1.7, 1.7),
         ylim=(-0.8, 177.0), yticks=[0, 50, 100, 150],
         ylabels={0: ('0', 2), 50: ('50', 5), 100: ('100', 10), 150: ('150', 10)},
         ylabel=r'LE (W m$^{-2}$ )', top=496),
    dict(series=((reco_obs_e8, STEP_COARSE), (reco_std_e8, STEP_COARSE), (reco_med_e8, STEP_COARSE)),
         scale=1e-8, lws=(1.9, 2.0, 2.6),
         ylim=(0.64e-8, 16.4e-8), yticks=[5e-8, 10e-8, 15e-8],
         ylabels={5e-8: ('5.0e-08', 16), 15e-8: ('1.5e-07', 19)},
         ylabel=r'Reco (kg C m$^{-2}$ d$^{-1}$ )', top=892),
]

W, H = 1317, 1266
fig = plt.figure(figsize=(W / 100, H / 100), dpi=100)
ax_left, ax_right, ax_h = 130, 1267, 271

for p in panels:
    ax = fig.add_axes([ax_left / W, 1 - (p['top'] + ax_h) / H,
                       (ax_right - ax_left) / W, ax_h / H])
    for (vals, step), c, lw in zip(p['series'], (col_obs, col_std, col_med), p['lws']):
        v = np.asarray(vals, dtype=float) * p['scale']
        d = DAY0 + step * np.arange(len(v))
        ax.plot(d, v, color=c, lw=lw, solid_joinstyle='miter')
    ax.set_xlim(-116.5, 3036.6)
    ax.set_ylim(*p['ylim'])
    ax.set_xticks([0, 500, 1000, 1500, 2000, 2500, 3000])
    ax.set_yticks(p['yticks'])
    ax.set_yticklabels([])
    ax.tick_params(axis='both', direction='out', length=8.6, width=1.3,
                   labelsize=FS, pad=6, color='#222222', labelcolor='#222222')
    for s in ax.spines.values():
        s.set_linewidth(1.6)
        s.set_color('#222222')
    base = mtransforms.blended_transform_factory(ax.transAxes, ax.transData)
    for val, (txt, dy) in p['ylabels'].items():
        tr = mtransforms.offset_copy(base, fig=fig, x=0, y=dy, units='dots')
        ax.text((89 - ax_left) / (ax_right - ax_left), val, txt, transform=tr,
                rotation=90, ha='center', va='center', fontsize=FS, color='#222222')
    ax.text((31 - ax_left) / (ax_right - ax_left), 0.5, p['ylabel'],
            transform=ax.transAxes, rotation=90, ha='center', va='center',
            fontsize=FS_YLAB, color='#222222')
    ax.text(0.5, -0.312, 'days', transform=ax.transAxes, ha='center',
            va='center', fontsize=FS, color='#222222')

fig.text(697 / W, 1 - 29 / H, 'IT- Cpz Evergreen Broadleaved Forest',
         ha='center', va='center', fontsize=29.5, color='#222222')
for txt, c, y in (('observed', col_obs, 87), ('JULES standard', col_std, 121),
                  ('JULES med', col_med, 156)):
    fig.text(1038 / W, 1 - y / H, txt, color=c, ha='left', va='center', fontsize=FS)

fig.savefig('out.png', dpi=100, facecolor='white')
